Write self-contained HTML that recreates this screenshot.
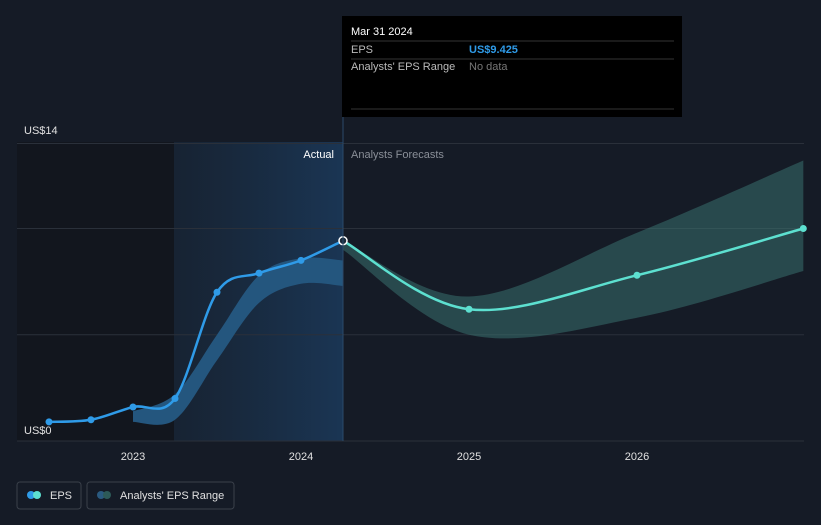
<!DOCTYPE html>
<html><head><meta charset="utf-8"><style>
html,body{margin:0;padding:0;background:#151b26;}
body{width:821px;height:520px;overflow:hidden;font-family:"Liberation Sans",sans-serif;}
svg text{font-family:"Liberation Sans",sans-serif;}
</style></head><body>
<svg id="chart" width="821" height="520">
<defs>
<linearGradient id="hl" x1="0" x2="1" y1="0" y2="0"><stop offset="0" stop-color="#1b3550" stop-opacity="0.3"/><stop offset="1" stop-color="#1b3a5c" stop-opacity="0.85"/></linearGradient>
</defs>
<rect x="17" y="142" width="157" height="299" fill="#12161e"/>
<rect x="174" y="142" width="169" height="299" fill="url(#hl)"/>
<g id="grid"></g>
<g id="bands"></g>
<g id="lines"></g>
<g id="xaxis"></g>
<line x1="343" y1="16" x2="343" y2="441" stroke="#2b4a6a" stroke-width="1"/>
<text x="334" y="158" fill="#ffffff" font-size="11" text-anchor="end">Actual</text>
<text x="351" y="158" fill="#8a8f98" font-size="11">Analysts Forecasts</text>
<text x="24" y="134" fill="#e0e0e0" font-size="11">US$14</text>
<text x="24" y="434" fill="#e0e0e0" font-size="11">US$0</text>
<g>
<rect x="342" y="16" width="340" height="101" fill="#000000"/>
<text x="351" y="35" fill="#ffffff" font-size="11">Mar 31 2024</text>
<line x1="351" y1="41" x2="674" y2="41" stroke="#333"/>
<text x="351" y="53" fill="#bbbbbb" font-size="11">EPS</text>
<text x="469" y="53" fill="#2f9be8" font-size="11" font-weight="bold">US$9.425</text>
<line x1="351" y1="59" x2="674" y2="59" stroke="#333"/>
<text x="351" y="70" fill="#bbbbbb" font-size="11">Analysts' EPS Range</text>
<text x="469" y="70" fill="#777" font-size="11">No data</text>
<line x1="351" y1="109" x2="674" y2="109" stroke="#333"/>
</g>
<g>
<rect x="17" y="482" width="64" height="27" rx="3" fill="none" stroke="#3a404a"/>
<circle cx="31" cy="495" r="4" fill="#2f9be8"/><circle cx="37" cy="495" r="4" fill="#5de0d0"/>
<text x="50" y="499" fill="#e0e0e0" font-size="11">EPS</text>
<rect x="87" y="482" width="147" height="27" rx="3" fill="none" stroke="#3a404a"/>
<circle cx="101" cy="495" r="4" fill="#2a5a80"/><circle cx="107" cy="495" r="4" fill="#2d5a58"/>
<text x="120" y="499" fill="#e0e0e0" font-size="11">Analysts' EPS Range</text>
</g>
</svg>
<script>
const years=[2023,2024,2025,2026];
const gridVals=[0,5,10,14];
const actualT=[2022.5,2022.75,2023.0,2023.25,2023.5,2023.75,2024.0,2024.25];
const actualV=[0.9,1.0,1.6,2.0,7.0,7.9,8.5,9.425];
const histBandT=[2023.0,2023.25,2023.5,2023.75,2024.0,2024.25];
const histBandLo=[0.9,1.0,3.8,6.5,7.4,7.3];
const histBandHi=[1.4,2.2,5.0,7.8,8.6,8.5];
const fcT=[2024.25,2025.0,2026.0,2026.99];
const fcV=[9.425,6.2,7.8,10.0];
const fcLo=[9.0,5.0,5.8,8.0];
const fcHi=[9.425,6.8,9.8,13.2];
const x=t=>133+(t-2023)*168;
const y=v=>441-v*21.25;
const NS="http://www.w3.org/2000/svg";
function mk(tag,parent,attrs){const e=document.createElementNS(NS,tag);for(const k in attrs)e.setAttribute(k,attrs[k]);document.getElementById(parent).appendChild(e);return e;}
function seg(pts){let d="";for(let i=0;i<pts.length-1;i++){const p0=pts[Math.max(i-1,0)],p1=pts[i],p2=pts[i+1],p3=pts[Math.min(i+2,pts.length-1)];
const c1=[p1[0]+(p2[0]-p0[0])/6,p1[1]+(p2[1]-p0[1])/6],c2=[p2[0]-(p3[0]-p1[0])/6,p2[1]-(p3[1]-p1[1])/6];
d+=" C"+c1[0]+","+c1[1]+" "+c2[0]+","+c2[1]+" "+p2[0]+","+p2[1];}return d;}
function smooth(pts){return "M"+pts[0][0]+","+pts[0][1]+seg(pts);}
gridVals.forEach(v=>{const l=mk('line','grid',{x1:17,x2:804,y1:y(v),y2:y(v),stroke:'#2a303a'});

});
years.forEach(yr=>{const t=mk('text','xaxis',{x:x(yr),y:460,fill:'#e0e0e0','font-size':11,'text-anchor':'middle'});t.textContent=yr;

});
function band(T,lo,hi,fill,name){const up=T.map((t,i)=>[x(t),y(hi[i])]);const dn=T.map((t,i)=>[x(t),y(lo[i])]).reverse();
const d=smooth(up)+" L"+dn[0][0]+","+dn[0][1]+seg(dn)+" Z";
const p=mk('path','bands',{d:d,fill:fill});

}
band(histBandT,histBandLo,histBandHi,'#24567e','historical-eps-range');
band(fcT,fcLo,fcHi,'rgba(60,120,115,0.5)','forecast-eps-range');
const ap=actualT.map((t,i)=>[x(t),y(actualV[i])]);
const al=mk('path','lines',{d:smooth(ap),fill:'none',stroke:'#2f9be8','stroke-width':2.5});


const fp=fcT.map((t,i)=>[x(t),y(fcV[i])]);
const fl=mk('path','lines',{d:smooth(fp),fill:'none',stroke:'#5de0d0','stroke-width':2.5});


ap.forEach((p,i)=>{const c=mk('circle','lines',{cx:p[0],cy:p[1],r:i==ap.length-1?4:3.5,fill:i==ap.length-1?'#1a2a3a':'#2f9be8',stroke:i==ap.length-1?'#ffffff':'none','stroke-width':1.5});

});
fp.slice(1).forEach(p=>{const c=mk('circle','lines',{cx:p[0],cy:p[1],r:3.5,fill:'#5de0d0'});

});
</script>
</body></html>
